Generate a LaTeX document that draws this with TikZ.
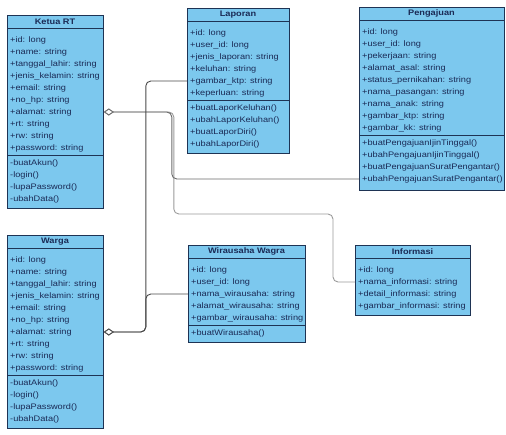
\documentclass[tikz,border=0pt]{standalone}
\usepackage{fontspec}
\newfontfamily\uml{Liberation Sans}[FakeStretch=1.15]
\usetikzlibrary{arrows.meta,calc}

\definecolor{boxfill}{HTML}{7CC8EE}
\definecolor{boxline}{HTML}{1E3354}
\definecolor{txt}{HTML}{1A2A55}
\definecolor{wiredark}{HTML}{4A4A4A}
\definecolor{wiremid}{HTML}{6A6A6A}
\definecolor{wirelight}{HTML}{9A9A9A}

\tikzset{
  classbox/.style={draw=boxline, fill=boxfill, line width=0.8pt, anchor=north west, inner sep=0pt},
  ctitle/.style={font=\uml\bfseries\fontsize{8}{9}\selectfont, text=txt, inner sep=0pt},
  crow/.style={font=\uml\fontsize{8}{9}\selectfont, text=txt, anchor=west, inner sep=0pt},
  sepline/.style={draw=boxline, line width=0.7pt},
  conn/.style={line width=0.9pt, rounded corners=5pt},
  agg/.style={{Diamond[length=10pt,width=7pt,fill=white]}-}
}

\newcommand{\classrows}[4]{%
  \foreach \t [count=\i] in {#4}
    \node[crow] (#1\i) at ({#2+3},{#3+12*(\i-1)}) {\t};
}

\begin{document}
\begin{tikzpicture}[x=1pt,y=-1pt]
\useasboundingbox (0,0) rectangle (506,434);

% Ketua RT
\node[classbox, minimum width=96pt, minimum height=193pt] (ketua) at (7,15) {};
\node[ctitle] (ketua-t) at (55,21.5) {Ketua RT};
\draw[sepline] (7,28) -- (103,28);
\draw[sepline] (7,155) -- (103,155);
\classrows{ketua-a}{7}{40}{+id: long,+name: string,+tanggal\_lahir: string,+jenis\_kelamin: string,+email: string,+no\_hp: string,+alamat: string,+rt: string,+rw: string,+password: string}
\classrows{ketua-m}{7}{163}{-buatAkun(),-login(),-lupaPassword(),-ubahData()}

% Warga
\node[classbox, minimum width=96pt, minimum height=193pt] (warga) at (7,235) {};
\node[ctitle] (warga-t) at (55,241.5) {Warga};
\draw[sepline] (7,248) -- (103,248);
\draw[sepline] (7,375) -- (103,375);
\classrows{warga-a}{7}{260}{+id: long,+name: string,+tanggal\_lahir: string,+jenis\_kelamin: string,+email: string,+no\_hp: string,+alamat: string,+rt: string,+rw: string,+password: string}
\classrows{warga-m}{7}{383}{-buatAkun(),-login(),-lupaPassword(),-ubahData()}

% Laporan
\node[classbox, minimum width=102pt, minimum height=145pt] (lap) at (187,8) {};
\node[ctitle] (lap-t) at (238,14.5) {Laporan};
\draw[sepline] (187,21) -- (289,21);
\draw[sepline] (187,100) -- (289,100);
\classrows{lap-a}{187}{33}{+id: long,+user\_id: long,+jenis\_laporan: string,+keluhan: string,+gambar\_ktp: string,+keperluan: string}
\classrows{lap-m}{187}{108}{+buatLaporKeluhan(),+ubahLaporKeluhan(),+buatLaporDiri(),+ubahLaporDiri()}

% Pengajuan
\node[classbox, minimum width=145pt, minimum height=183pt] (peng) at (359,7) {};
\node[ctitle] (peng-t) at (431.5,13.5) {Pengajuan};
\draw[sepline] (359,20) -- (504,20);
\draw[sepline] (359,135) -- (504,135);
\classrows{peng-a}{359}{32}{+id: long,+user\_id: long,+pekerjaan: string,+alamat\_asal: string,+status\_pernikahan: string,+nama\_pasangan: string,+nama\_anak: string,+gambar\_ktp: string,+gambar\_kk: string}
\classrows{peng-m}{359}{143}{+buatPengajuanIjinTinggal(),+ubahPengajuanIjinTinggal(),+buatPengajuanSuratPengantar(),+ubahPengajuanSuratPengantar()}

% Wirausaha Wagra
\node[classbox, minimum width=117pt, minimum height=97pt] (wir) at (188,245) {};
\node[ctitle] (wir-t) at (246.5,251.5) {Wirausaha Wagra};
\draw[sepline] (188,258) -- (305,258);
\draw[sepline] (188,325) -- (305,325);
\classrows{wir-a}{188}{270}{+id: long,+user\_id: long,+nama\_wirausaha: string,+alamat\_wirausaha: string,+gambar\_wirausaha: string}
\classrows{wir-m}{188}{333}{+buatWirausaha()}

% Informasi
\node[classbox, minimum width=115pt, minimum height=70pt] (info) at (355,245) {};
\node[ctitle] (info-t) at (412.5,251.5) {Informasi};
\draw[sepline] (355,258) -- (470,258);
\classrows{info-a}{355}{270}{+id: long,+nama\_informasi: string,+detail\_informasi: string,+gambar\_informasi: string}

% connectors
\draw[conn, draw=wirelight, agg] (ketua.east |- ketua-a7) -- ++(70,0) -- ++(0,102)
  -| ($(info.west |- info-a2)+(-22,0)$) -- (info.west |- info-a2);
\draw[conn, draw=wiremid, agg] (ketua.east |- ketua-a7) -- ++(68,0) |- (peng.west |- peng-m4);
\draw[conn, draw=wiredark, agg] (warga.east |- warga-a7) -- ++(42,0) |- (wir.west |- wir-a3);
\draw[conn, draw=wiredark, agg] (warga.east |- warga-a7) -- ++(42,0) |- (lap.west |- lap-a5);

\end{tikzpicture}
\end{document}
